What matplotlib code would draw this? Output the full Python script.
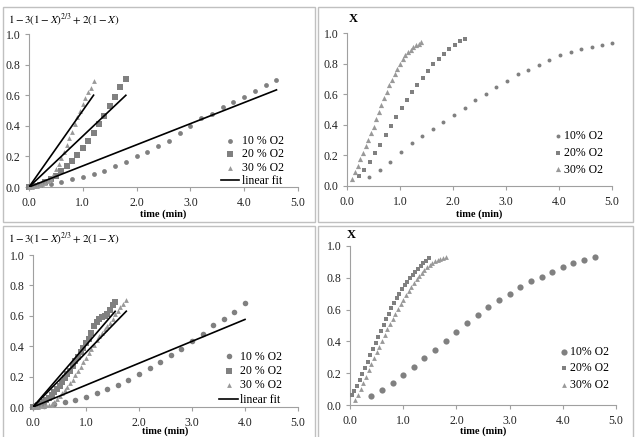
import matplotlib
matplotlib.use('Agg')
import matplotlib.pyplot as plt
from matplotlib.patches import Rectangle
from matplotlib.ticker import FormatStrFormatter

plt.rcParams['font.family'] = ['Liberation Serif', 'DejaVu Serif']
plt.rcParams['mathtext.fontset'] = 'stix'

labels_a = ['10 % O2', '20 % O2', '30 % O2']
labels_b = ['10% O2', '20% O2', '30% O2']

# ---- panel 1 (top left): model vs time
t1_10 = [0.0, 0.2, 0.4, 0.6, 0.8, 1.0, 1.2, 1.4, 1.6, 1.8, 2.0, 2.2, 2.4, 2.6, 2.8, 3.0,
         3.2, 3.4, 3.6, 3.8, 4.0, 4.2, 4.4, 4.6]
v1_10 = [0.0, 0.01, 0.02, 0.035, 0.05, 0.065, 0.085, 0.105, 0.135, 0.165, 0.20, 0.23,
         0.27, 0.30, 0.35, 0.40, 0.45, 0.48, 0.52, 0.555, 0.585, 0.625, 0.665, 0.70]
t1_20 = [0.0, 0.1, 0.2, 0.3, 0.4, 0.5, 0.6, 0.7, 0.8, 0.9, 1.0, 1.1, 1.2, 1.3, 1.4, 1.5,
         1.6, 1.7, 1.8]
v1_20 = [0.0, 0.005, 0.015, 0.03, 0.05, 0.075, 0.105, 0.135, 0.17, 0.21, 0.255, 0.30,
         0.355, 0.41, 0.465, 0.53, 0.59, 0.655, 0.705]
t1_30 = [0.0, 0.05, 0.1, 0.15, 0.2, 0.25, 0.3, 0.35, 0.4, 0.45, 0.5, 0.55, 0.6, 0.65,
         0.7, 0.75, 0.8, 0.85, 0.9, 0.95, 1.0, 1.05, 1.1, 1.15, 1.2]
v1_30 = [0.0, 0.002, 0.005, 0.008, 0.012, 0.018, 0.026, 0.038, 0.055, 0.08, 0.115, 0.15,
         0.19, 0.23, 0.275, 0.32, 0.36, 0.41, 0.455, 0.50, 0.54, 0.58, 0.62, 0.65, 0.69]
fit1_slope = [0.138, 0.333, 0.5]
fit1_end = [4.6, 1.8, 1.2]

# ---- panel 2 (top right): conversion X vs time
t2_10 = [0.42, 0.62, 0.82, 1.02, 1.22, 1.42, 1.62, 1.82, 2.02, 2.22, 2.42, 2.62, 2.82,
         3.02, 3.22, 3.42, 3.62, 3.82, 4.02, 4.22, 4.42, 4.62, 4.82, 5.0]
v2_10 = [0.057, 0.107, 0.16, 0.22, 0.28, 0.33, 0.375, 0.42, 0.463, 0.513, 0.563, 0.60,
         0.646, 0.688, 0.73, 0.755, 0.79, 0.825, 0.854, 0.878, 0.893, 0.908, 0.921, 0.935]
t2_20 = [0.23, 0.33, 0.43, 0.53, 0.63, 0.73, 0.83, 0.93, 1.03, 1.13, 1.23, 1.33, 1.43,
         1.53, 1.63, 1.73, 1.83, 1.93, 2.03, 2.13, 2.23]
v2_20 = [0.065, 0.105, 0.155, 0.214, 0.27, 0.333, 0.39, 0.449, 0.508, 0.562, 0.612,
         0.662, 0.708, 0.754, 0.795, 0.83, 0.863, 0.895, 0.92, 0.945, 0.958]
t2_30 = [0.1, 0.15, 0.2, 0.25, 0.3, 0.35, 0.4, 0.45, 0.5, 0.55, 0.6, 0.65, 0.7, 0.75,
         0.8, 0.85, 0.9, 0.95, 1.0, 1.05, 1.1, 1.15, 1.2, 1.25, 1.3, 1.35, 1.4]
v2_30 = [0.046, 0.093, 0.133, 0.176, 0.216, 0.26, 0.30, 0.344, 0.388, 0.436, 0.484,
         0.527, 0.573, 0.614, 0.658, 0.693, 0.73, 0.765, 0.797, 0.828, 0.854, 0.874,
         0.891, 0.906, 0.92, 0.93, 0.94]

# ---- panel 3 (bottom left): model vs time
t3_10 = [0.0, 0.2, 0.4, 0.6, 0.8, 1.0, 1.2, 1.4, 1.6, 1.8, 2.0, 2.2, 2.4, 2.6, 2.8, 3.0,
         3.2, 3.4, 3.6, 3.8, 4.0]
v3_10 = [0.0, 0.005, 0.02, 0.035, 0.045, 0.068, 0.094, 0.12, 0.148, 0.18, 0.22, 0.255,
         0.297, 0.345, 0.38, 0.432, 0.48, 0.537, 0.58, 0.627, 0.686]
t3_20 = [0.0, 0.05, 0.1, 0.15, 0.2, 0.25, 0.3, 0.35, 0.4, 0.45, 0.5, 0.55, 0.6, 0.65,
         0.7, 0.75, 0.8, 0.85, 0.9, 0.95, 1.0, 1.05, 1.1, 1.15, 1.2, 1.25, 1.3, 1.35,
         1.4, 1.45, 1.5, 1.55]
v3_20 = [0.0, 0.005, 0.01, 0.02, 0.03, 0.045, 0.06, 0.08, 0.1, 0.12, 0.14, 0.165, 0.19,
         0.215, 0.24, 0.27, 0.3, 0.33, 0.36, 0.39, 0.42, 0.45, 0.49, 0.53, 0.56, 0.58,
         0.59, 0.6, 0.61, 0.64, 0.67, 0.69]
t3_30 = [0.0, 0.05, 0.1, 0.15, 0.2, 0.25, 0.3, 0.35, 0.4, 0.45, 0.5, 0.55, 0.6, 0.65,
         0.7, 0.75, 0.8, 0.85, 0.9, 0.95, 1.0, 1.05, 1.1, 1.15, 1.2, 1.25, 1.3, 1.35,
         1.4, 1.45, 1.5, 1.55, 1.6, 1.65, 1.7, 1.75]
v3_30 = [0.0, 0.001, 0.002, 0.004, 0.006, 0.01, 0.015, 0.022, 0.032, 0.05, 0.07, 0.09,
         0.11, 0.13, 0.155, 0.18, 0.21, 0.24, 0.265, 0.295, 0.325, 0.355, 0.38, 0.41,
         0.44, 0.465, 0.49, 0.515, 0.535, 0.555, 0.58, 0.61, 0.63, 0.655, 0.68, 0.705]
fit3_slope = [0.144, 0.406, 0.358]
fit3_end = [4.0, 1.55, 1.76]

# ---- panel 4 (bottom right): conversion X vs time
t4_10 = [0.4, 0.6, 0.8, 1.0, 1.2, 1.4, 1.6, 1.8, 2.0, 2.2, 2.4, 2.6, 2.8, 3.0, 3.2, 3.4,
         3.6, 3.8, 4.0, 4.2, 4.4, 4.6]
v4_10 = [0.055, 0.094, 0.136, 0.19, 0.24, 0.293, 0.348, 0.405, 0.461, 0.518, 0.566,
         0.614, 0.658, 0.698, 0.742, 0.778, 0.807, 0.839, 0.866, 0.895, 0.914, 0.931]
t4_20 = [0.03, 0.08, 0.13, 0.18, 0.23, 0.28, 0.33, 0.38, 0.43, 0.48, 0.53, 0.58, 0.63,
         0.68, 0.73, 0.78, 0.83, 0.88, 0.93, 0.98, 1.03, 1.08, 1.13, 1.18, 1.23, 1.28,
         1.33, 1.38, 1.43, 1.48]
v4_20 = [0.063, 0.09, 0.121, 0.157, 0.195, 0.23, 0.272, 0.314, 0.352, 0.388, 0.43,
         0.467, 0.503, 0.541, 0.574, 0.608, 0.64, 0.671, 0.70, 0.728, 0.753, 0.775,
         0.797, 0.818, 0.838, 0.857, 0.874, 0.891, 0.907, 0.922]
t4_30 = [0.1, 0.15, 0.2, 0.25, 0.3, 0.35, 0.4, 0.45, 0.5, 0.55, 0.6, 0.65, 0.7, 0.75,
         0.8, 0.85, 0.9, 0.95, 1.0, 1.05, 1.1, 1.15, 1.2, 1.25, 1.3, 1.35, 1.4, 1.45,
         1.5, 1.55, 1.6, 1.65, 1.7, 1.75, 1.8]
v4_30 = [0.03, 0.06, 0.1, 0.14, 0.178, 0.218, 0.256, 0.294, 0.332, 0.367, 0.403, 0.44,
         0.476, 0.509, 0.541, 0.572, 0.604, 0.633, 0.662, 0.69, 0.717, 0.742, 0.765,
         0.79, 0.811, 0.832, 0.851, 0.868, 0.88, 0.895, 0.905, 0.914, 0.921, 0.926,
         0.929]

W, H = 636, 437
GRAY = '#808080'
AXC = '#a0a0a0'
model_label = r'$1-3(1-X)^{2/3}+2(1-X)$'

fig = plt.figure(figsize=(W / 100, H / 100), dpi=100)

# panel frames (pixel boxes)
for x0, y0, x1, y1 in [(3, 7, 315, 222), (318, 7, 633, 222),
                       (3, 226, 315, 440), (318, 226, 633, 440)]:
    fig.patches.append(Rectangle((x0 / W, 1 - y1 / H), (x1 - x0) / W, (y1 - y0) / H,
                                 transform=fig.transFigure, fill=False,
                                 edgecolor='#c0c0c0', lw=1.0))


def make_ax(x0, x1, ytop, ybot, label_y):
    ax = fig.add_axes([x0 / W, 1 - ybot / H, (x1 - x0) / W, (ybot - ytop) / H])
    ax.set_xlim(0, 5)
    ax.set_ylim(0, 1)
    ax.set_xticks([0, 1, 2, 3, 4, 5])
    ax.set_yticks([0, 0.2, 0.4, 0.6, 0.8, 1.0])
    ax.xaxis.set_major_formatter(FormatStrFormatter('%.1f'))
    ax.yaxis.set_major_formatter(FormatStrFormatter('%.1f'))
    for s in ['top', 'right']:
        ax.spines[s].set_visible(False)
    for s in ['left', 'bottom']:
        ax.spines[s].set_color(AXC)
        ax.spines[s].set_linewidth(0.8)
    ax.tick_params(direction='out', length=3, width=0.8, color=AXC,
                   labelsize=8.5, labelcolor='#222222', pad=3)
    ax.tick_params(axis='x', pad=4)
    ax.set_xlabel('time (min)', fontsize=7.5, fontweight='bold', va='center')
    # put the axis title at a fixed pixel row
    ax.xaxis.set_label_coords(0.5, (ybot - label_y) / (ybot - ytop))
    ax.patch.set_alpha(0)
    return ax


def draw_series(ax, ts, vs, sizes, labels):
    markers = ['o', 's', '^']
    colors = [GRAY, GRAY, '#999999']
    for t, v, m, c, s, lab in zip(ts, vs, markers, colors, sizes, labels):
        ax.scatter(t, v, marker=m, s=s, color=c, lw=0, clip_on=False, label=lab, zorder=3)


def draw_fits(ax, slopes, ends):
    for i, (k, e) in enumerate(zip(slopes, ends)):
        ax.plot([0, e], [0, k * e], color='black', lw=1.2, zorder=4,
                label='linear fit' if i == 0 else None)


# panel 1
ax1 = make_ax(29, 298, 34, 187, 214)
draw_series(ax1, [t1_10, t1_20, t1_30], [v1_10, v1_20, v1_30], [12, 16, 12], labels_a)
draw_fits(ax1, fit1_slope, fit1_end)
ax1.legend(loc='lower left', bbox_to_anchor=(0.69, -0.04), frameon=False, fontsize=8.5,
           handlelength=1.6, handletextpad=0.2, labelspacing=0.12, borderpad=0,
           scatterpoints=1)
fig.text(8 / W, 1 - 20 / H, model_label, fontsize=8, va='center', ha='left')

# panel 2
ax2 = make_ax(347, 612, 33, 186, 214)
draw_series(ax2, [t2_10, t2_20, t2_30], [v2_10, v2_20, v2_30], [8, 10, 14], labels_b)
ax2.legend(loc='lower left', bbox_to_anchor=(0.76, 0.03), frameon=False, fontsize=8.5,
           handlelength=0.6, handletextpad=0.2, labelspacing=0.4, borderpad=0,
           scatterpoints=1)
fig.text(353 / W, 1 - 19 / H, 'X', fontsize=9, fontweight='bold', va='center', ha='center')

# panel 3
ax3 = make_ax(33, 298, 255, 407, 431)
draw_series(ax3, [t3_10, t3_20, t3_30], [v3_10, v3_20, v3_30], [16, 16, 12], labels_a)
draw_fits(ax3, fit3_slope, fit3_end)
ax3.legend(loc='lower left', bbox_to_anchor=(0.68, -0.03), frameon=False, fontsize=8.5,
           handlelength=1.6, handletextpad=0.2, labelspacing=0.2, borderpad=0,
           scatterpoints=1)
fig.text(8 / W, 1 - 239 / H, model_label, fontsize=8, va='center', ha='left')

# panel 4
ax4 = make_ax(350, 616, 246, 405, 431)
draw_series(ax4, [t4_10, t4_20, t4_30], [v4_10, v4_20, v4_30], [20, 12, 12], labels_b)
ax4.legend(loc='lower left', bbox_to_anchor=(0.77, 0.05), frameon=False, fontsize=8.5,
           handlelength=0.6, handletextpad=0.2, labelspacing=0.4, borderpad=0,
           scatterpoints=1)
fig.text(351 / W, 1 - 235 / H, 'X', fontsize=9, fontweight='bold', va='center', ha='center')

fig.savefig('out.png', dpi=100)
